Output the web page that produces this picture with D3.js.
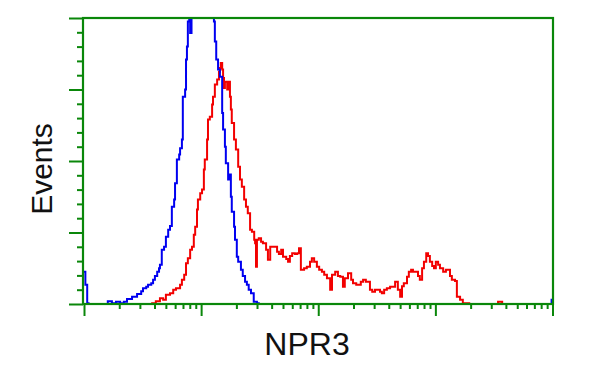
<!doctype html>
<html lang="en-US">
<head>
<meta charset="UTF-8">
<title>NPR3 histogram</title>
<script src="https://cdn.jsdelivr.net/npm/d3@7"></script>
<style>
  body { margin: 0; background: #fff; }
  text { font-family: "Liberation Sans", Arial, sans-serif; fill: #111; }
</style>
</head>
<body>
<div id="viz"></div>

<script type="text/javascript">

// log channels (0-1024 over 4 decades) and event counts
var blueChannel = [0, 3, 7, 10, 52, 61, 70, 79, 87, 94, 105, 116, 125, 129, 136, 140, 147, 151, 155, 160,
  164, 166, 170, 175, 179, 184, 188, 192, 197, 199, 203, 208, 210, 214, 216, 221, 223, 225, 227, 230,
  232, 235, 240, 248, 256, 264, 272, 280, 284, 286, 289, 293, 297, 302, 304, 308, 310, 315, 319, 321,
  323, 328, 330, 334, 337, 343, 347, 352, 356, 360, 365, 371, 378, 382, 1020, 1022, 1024];
var blueCount = [45, 27, 1, 0, 4, 1, 3, 1, 3, 7, 10, 14, 18, 22, 24, 27, 29, 34, 39, 45,
  50, 55, 76, 80, 94, 104, 109, 136, 146, 169, 202, 209, 218, 230, 290, 300, 342, 360, 395, 430,
  379, 430, 450, 470, 480, 470, 455, 430, 395, 367, 342, 328, 318, 267, 244, 220, 197, 174, 181, 150,
  129, 108, 90, 66, 59, 48, 39, 31, 27, 20, 15, 3, 1, 0, 0, 6, 6];

var redChannel = [144, 149, 157, 166, 173, 179, 188, 195, 201, 210, 214, 219, 223, 227, 232, 236, 240, 243, 247, 249,
  254, 258, 262, 264, 269, 271, 275, 280, 282, 286, 291, 295, 297, 299, 302, 304, 306, 308, 313, 315,
  319, 321, 323, 328, 332, 337, 341, 345, 350, 354, 358, 363, 367, 372, 374, 376, 378, 382, 387, 391,
  398, 402, 407, 413, 417, 422, 426, 431, 435, 442, 446, 450, 455, 461, 466, 470, 474, 481, 487, 494,
  498, 503, 509, 514, 520, 525, 531, 538, 542, 549, 555, 560, 566, 570, 577, 584, 588, 595, 599, 605,
  610, 616, 621, 625, 630, 636, 640, 647, 651, 656, 662, 669, 673, 680, 686, 691, 695, 699, 706, 710,
  715, 719, 723, 730, 734, 739, 743, 748, 752, 756, 761, 765, 769, 774, 778, 785, 791, 796, 800, 804,
  811, 815, 822, 828, 835, 842, 905, 914, 1024];
var redCount = [0, 1, 4, 8, 6, 13, 15, 20, 22, 27, 34, 41, 57, 64, 76, 80, 97, 108, 132, 146,
  155, 160, 188, 202, 230, 258, 262, 279, 290, 307, 314, 325, 330, 337, 328, 316, 302, 311, 300, 311,
  290, 272, 253, 230, 216, 192, 174, 164, 146, 136, 127, 104, 101, 90, 85, 52, 90, 92, 87, 85,
  76, 62, 80, 80, 80, 73, 70, 76, 66, 63, 59, 67, 71, 70, 71, 78, 48, 50, 52, 59,
  64, 59, 52, 48, 45, 41, 36, 20, 41, 45, 39, 38, 24, 36, 43, 34, 29, 27, 27, 31,
  34, 31, 31, 20, 17, 20, 20, 17, 15, 20, 22, 24, 24, 31, 20, 10, 25, 29, 38, 45,
  48, 45, 45, 39, 34, 50, 59, 71, 67, 59, 53, 50, 59, 55, 50, 45, 48, 48, 39, 34,
  32, 10, 6, 1, 1, 0, 3, 0, 0];

var xDomain = [1, 10000];
var yDomain = [0, 400];
var xLabel = "NPR3", yLabel = "Events";

var width = 600, height = 375;
var mLeft = 83, mRight = 553, mTop = 18, mBottom = 304;
var green = "#0a870a";

var svg = d3.select('#viz').append("svg").attr('width', width).attr('height', height);

var xLog = d3.scaleLog().domain(xDomain).range([mLeft + 1, mRight - 0.5]);
var xChan = d3.scaleLinear().domain([0, 1024]).range([mLeft + 1, mRight - 0.5]);
var y = d3.scaleLinear().domain(yDomain).range([mBottom, mTop]);

svg.append("clipPath").attr("id", "plotClip")
  .append("rect").attr("x", mLeft).attr("y", mTop).attr("width", mRight - mLeft).attr("height", mBottom - mTop);

var line = d3.line()
  .x(function(d) { return xChan(d[0]); })
  .y(function(d) { return y(d[1]); })
  .curve(d3.curveStepAfter);

var plot = svg.append("g").attr("clip-path", "url(#plotClip)");

plot.append("path")
  .datum(d3.zip(redChannel, redCount))
  .attr("d", line)
  .attr("fill", "none").attr("stroke", "#f20000").attr("stroke-width", 2);

plot.append("path")
  .datum(d3.zip(blueChannel, blueCount))
  .attr("d", line)
  .attr("fill", "none").attr("stroke", "#0000f0").attr("stroke-width", 2);

// axes
var xAxis = d3.axisBottom(xLog).tickFormat("").tickSizeOuter(0)
  .tickValues(xLog.ticks());
var gx = svg.append("g").attr("transform", "translate(0," + mBottom + ")").call(xAxis);
gx.selectAll(".tick line").attr("y2", function(d) {
  return Math.abs(Math.log10(d) % 1) < 1e-9 ? 12 : 5;
});

var yAxis = d3.axisLeft(y).ticks(20).tickFormat("").tickSizeOuter(0);
var gy = svg.append("g").attr("transform", "translate(" + mLeft + ",0)").call(yAxis);
gy.selectAll(".tick line").attr("x2", function(d) { return d % 100 === 0 ? -14 : -6; });

svg.selectAll(".domain").remove();
svg.selectAll(".tick line").attr("stroke", green).attr("stroke-width", 2);

// frame
svg.append("rect")
  .attr("x", mLeft).attr("y", mTop).attr("width", mRight - mLeft).attr("height", mBottom - mTop)
  .attr("fill", "none").attr("stroke", green).attr("stroke-width", 2.2);

svg.append("text")
  .attr("x", (mLeft + mRight) / 2 - 11).attr("y", 355)
  .attr("text-anchor", "middle").attr("font-size", 32)
  .text(xLabel);

svg.append("text")
  .attr("transform", "translate(52,169) rotate(-90)")
  .attr("text-anchor", "middle").attr("font-size", 30)
  .text(yLabel);

</script>

</body>
</html>
